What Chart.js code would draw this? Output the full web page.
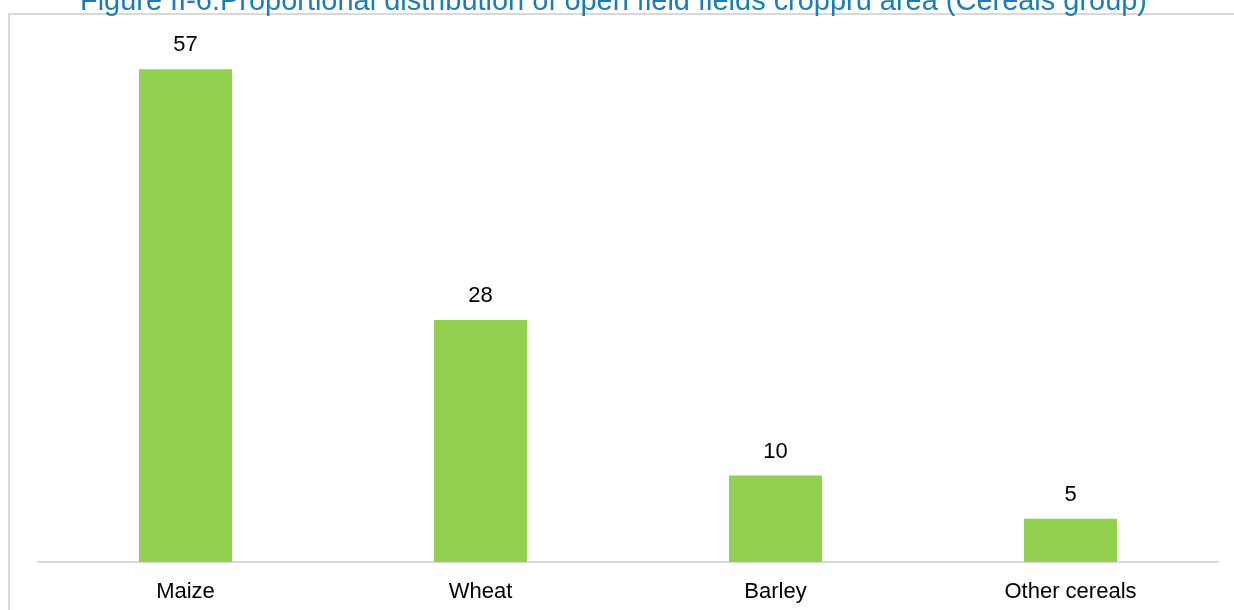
<!DOCTYPE html>
<html>
<head>
    <title>Cereals group</title>
    <script src="https://cdn.jsdelivr.net/npm/chart.js"></script>
    <style>
        body {
            margin: 0;
            width: 1234px;
            height: 610px;
            overflow: hidden;
            background: #ffffff;
            font-family: Arial, "Liberation Sans", sans-serif;
        }

        /* light grey frame around the chart */
        .frame {
            position: absolute;
            left: 8px;
            top: 13px;
            width: 1240px;
            height: 620px;
            border-left: 2px solid #d9d9d9;
            border-top: 2px solid #d9d9d9;
        }

        #title {
            position: absolute;
            left: 80px;
            top: -15px;
            font-size: 30px;
            line-height: 30px;
            color: #1a7db3;
            white-space: nowrap;
            transform-origin: 0 0;
        }

        .chart-container {
            position: absolute;
            left: 0;
            top: 0;
            width: 1234px;
            height: 610px;
        }
    </style>
</head>
<body>
    <div class="frame"></div>
    <div class="chart-container">
        <canvas id="cerealsChart"></canvas>
    </div>
    <span id="title">Figure II-6.Proportional distribution of open field fields croppru area (Cereals group)</span>

    <script>
        const categories = ['Maize', 'Wheat', 'Barley', 'Other cereals'];
        const shares = [57, 28, 10, 5];

        // squeeze the title to the width it has in the figure
        const titleEl = document.getElementById('title');
        const titleWidth = titleEl.getBoundingClientRect().width;
        titleEl.style.transform = 'scaleX(' + (1067 / titleWidth) + ')';

        // values written above each bar
        const valueLabels = {
            id: 'valueLabels',
            afterDatasetsDraw(chart) {
                const ctx = chart.ctx;
                const meta = chart.getDatasetMeta(0);
                ctx.save();
                ctx.font = '22px Arial, "Liberation Sans", sans-serif';
                ctx.fillStyle = '#000000';
                ctx.textAlign = 'center';
                ctx.textBaseline = 'middle';
                meta.data.forEach((bar, i) => {
                    ctx.fillText(String(chart.data.datasets[0].data[i]), bar.x, bar.y - 24);
                });
                ctx.restore();
            }
        };

        const ctx = document.getElementById('cerealsChart').getContext('2d');
        new Chart(ctx, {
            type: 'bar',
            data: {
                labels: categories,
                datasets: [{
                    data: shares,
                    backgroundColor: '#92d050',
                    borderWidth: 0,
                    categoryPercentage: 1,
                    barPercentage: 0.315
                }]
            },
            options: {
                responsive: true,
                maintainAspectRatio: false,
                animation: false,
                layout: {
                    padding: { left: 38, right: 16, top: 0, bottom: 0 }
                },
                plugins: {
                    legend: { display: false },
                    tooltip: { enabled: false }
                },
                scales: {
                    x: {
                        grid: { display: false, drawTicks: false },
                        border: { display: true, color: '#d9d9d9', width: 2 },
                        ticks: {
                            color: '#000000',
                            padding: 17,
                            font: { size: 22, family: 'Arial, "Liberation Sans", sans-serif' }
                        },
                        afterFit(scale) {
                            scale.height = 48;
                        }
                    },
                    y: {
                        display: false,
                        min: 0,
                        max: 65
                    }
                }
            },
            plugins: [valueLabels]
        });
    </script>
</body>
</html>
